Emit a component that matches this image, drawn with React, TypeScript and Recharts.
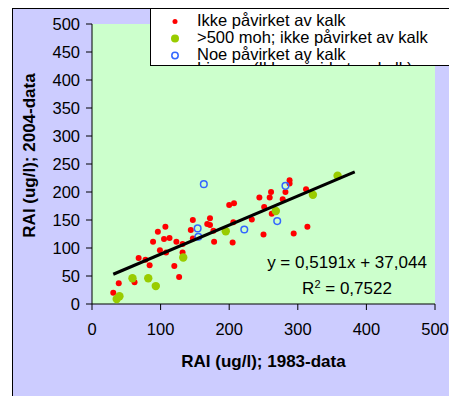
import { ScatterChart, Scatter, XAxis, YAxis, CartesianGrid, Legend } from "recharts";

type Pt = { x: number; y: number };

const FONT = '"Liberation Sans", Arial, sans-serif';

// Ikke påvirket av kalk
const ikkePavirket: Pt[] = [
  { x: 31, y: 20 }, { x: 39, y: 37 }, { x: 62, y: 39 }, { x: 68, y: 82 },
  { x: 78, y: 79 }, { x: 84, y: 69 }, { x: 89, y: 111 }, { x: 99, y: 96 },
  { x: 96, y: 129 }, { x: 107, y: 138 }, { x: 105, y: 116 }, { x: 113, y: 118 },
  { x: 123, y: 111 }, { x: 108, y: 92 }, { x: 132, y: 107 }, { x: 132, y: 92 },
  { x: 120, y: 68 }, { x: 127, y: 48 }, { x: 147, y: 150 }, { x: 144, y: 132 },
  { x: 147, y: 117 }, { x: 168, y: 143 }, { x: 172, y: 153 }, { x: 172, y: 141 },
  { x: 177, y: 131 }, { x: 178, y: 111 }, { x: 200, y: 177 }, { x: 207, y: 180 },
  { x: 206, y: 146 }, { x: 205, y: 110 }, { x: 233, y: 151 }, { x: 244, y: 190 },
  { x: 251, y: 173 }, { x: 259, y: 190 }, { x: 261, y: 200 }, { x: 250, y: 124 },
  { x: 262, y: 161 }, { x: 278, y: 187 }, { x: 282, y: 200 }, { x: 288, y: 221 },
  { x: 288, y: 215 }, { x: 294, y: 126 }, { x: 312, y: 205 }, { x: 314, y: 138 },
];

// >500 moh; ikke påvirket av kalk
const over500moh: Pt[] = [
  { x: 36, y: 9 }, { x: 40, y: 14 }, { x: 59, y: 46 }, { x: 82, y: 46 },
  { x: 93, y: 32 }, { x: 133, y: 83 }, { x: 195, y: 130 }, { x: 268, y: 166 },
  { x: 322, y: 195 }, { x: 358, y: 229 },
];

// Noe påvirket av kalk
const noePavirket: Pt[] = [
  { x: 163, y: 214 }, { x: 154, y: 135 }, { x: 155, y: 120 },
  { x: 222, y: 133 }, { x: 270, y: 148 }, { x: 282, y: 211 },
];

const xTicks = [0, 100, 200, 300, 400, 500];
const yTicks = [0, 50, 100, 150, 200, 250, 300, 350, 400, 450, 500];

// lineær trendlinje
const slope = 0.5191;
const intercept = 37.044;
const trendX = [31, 383];
const trend = trendX.map((x) => ({ x, y: slope * x + intercept }));

const legendItems = [
  { name: "Ikke påvirket av kalk", kind: "red" },
  { name: ">500 moh; ikke påvirket av kalk", kind: "green" },
  { name: "Noe påvirket av kalk", kind: "blue" },
  { name: "Lineær (Ikke påvirket av kalk)", kind: "line" },
];

function Marker({ kind }: { kind: string }) {
  if (kind === "red") return <circle cx={24} cy={9.5} r={2.5} fill="#FF0000" />;
  if (kind === "green") return <circle cx={24} cy={9.5} r={4} fill="#99CC00" />;
  if (kind === "blue") return <circle cx={24} cy={9.5} r={3.2} fill="none" stroke="#3366FF" strokeWidth={1.5} />;
  return <line x1={8} x2={40} y1={9.5} y2={9.5} stroke="#000" strokeWidth={3} />;
}

function LegendBox() {
  return (
    <div
      style={{
        position: "relative",
        width: 320,
        height: 58,
        boxSizing: "border-box",
        border: "1px solid #000",
        background: "#fff",
        overflow: "hidden",
        fontFamily: FONT,
        fontSize: 16.5,
        color: "#000",
      }}
    >
      {legendItems.map((item, i) => (
        <div
          key={item.name}
          style={{
            position: "absolute",
            left: 0,
            // the last entry is cut by the box, as in the original
            top: 2.8 + i * 17 - (i === 3 ? 3 : 0),
            height: 17,
            lineHeight: "17px",
            display: "flex",
            whiteSpace: "nowrap",
          }}
        >
          <svg width={46} height={17}>
            <Marker kind={item.kind} />
          </svg>
          <span>{item.name}</span>
        </div>
      ))}
    </div>
  );
}

const redDot = (p: any) => <circle cx={p.cx} cy={p.cy} r={3} fill="#FF0000" />;
const greenDot = (p: any) => <circle cx={p.cx} cy={p.cy} r={4.2} fill="#99CC00" />;
const blueDot = (p: any) => (
  <circle cx={p.cx} cy={p.cy} r={3.3} fill="none" stroke="#3366FF" strokeWidth={1.5} />
);

export default function App() {
  const tick = { fontSize: 16.5, fill: "#000", fontFamily: FONT };
  return (
    <div style={{ position: "absolute", left: 0, top: 0, width: 449, height: 396, overflow: "hidden", background: "#fff", fontFamily: FONT }}>
      <div
        style={{ position: "absolute", left: 12, top: 8, width: 470, height: 420, border: "1.5px solid #000", background: "#CCCCFF" }}
      />
      <div style={{ position: "absolute", left: 0, top: 0 }}>
        <ScatterChart width={449} height={396} margin={{ top: 24, right: 14, bottom: 32, left: 12 }}>
          <CartesianGrid fill="#CCFFCC" horizontal={false} vertical={false} />
          <XAxis
            type="number"
            dataKey="x"
            domain={[0, 500]}
            ticks={xTicks}
            height={60}
            stroke="#000"
            tickSize={6}
            tickMargin={13}
            tick={tick}
            label={{
              value: "RAI (ug/l); 1983-data",
              position: "insideBottom",
              offset: -3,
              style: { fontSize: 17, fontWeight: "bold", fill: "#000", fontFamily: FONT },
            }}
          />
          <YAxis
            type="number"
            dataKey="y"
            domain={[0, 500]}
            ticks={yTicks}
            width={80}
            stroke="#000"
            tickSize={6}
            tickMargin={6}
            tick={tick}
          />
          <Legend
            layout="horizontal"
            verticalAlign="middle"
            align="center"
            wrapperStyle={{ top: 8, left: 150, width: 320, height: 58 }}
            content={LegendBox}
          />
          <Scatter name="Ikke påvirket av kalk" data={ikkePavirket} shape={redDot} isAnimationActive={false} />
          <Scatter name=">500 moh; ikke påvirket av kalk" data={over500moh} shape={greenDot} isAnimationActive={false} />
          <Scatter name="Noe påvirket av kalk" data={noePavirket} shape={blueDot} isAnimationActive={false} />
          <Scatter
            name="Lineær (Ikke påvirket av kalk)"
            data={trend}
            line={{ stroke: "#000", strokeWidth: 3 }}
            lineType="joint"
            shape={() => <g />}
            isAnimationActive={false}
          />
        </ScatterChart>
      </div>
      <svg width={449} height={396} style={{ position: "absolute", left: 0, top: 0, pointerEvents: "none" }}>
        <text
          transform="translate(35,155.5) rotate(-90)"
          textAnchor="middle"
          fontSize={17}
          fontWeight="bold"
          fontFamily={FONT}
          fill="#000"
        >
          RAI (ug/l); 2004-data
        </text>
        <text x={347} y={268} textAnchor="middle" fontSize={17} fontFamily={FONT} fill="#000">
          y = 0,5191x + 37,044
        </text>
        <text x={347} y={294} textAnchor="middle" fontSize={17} fontFamily={FONT} fill="#000">
          R<tspan dy={-6} fontSize={11}>2</tspan>
          <tspan dy={6}> = 0,7522</tspan>
        </text>
      </svg>
    </div>
  );
}
